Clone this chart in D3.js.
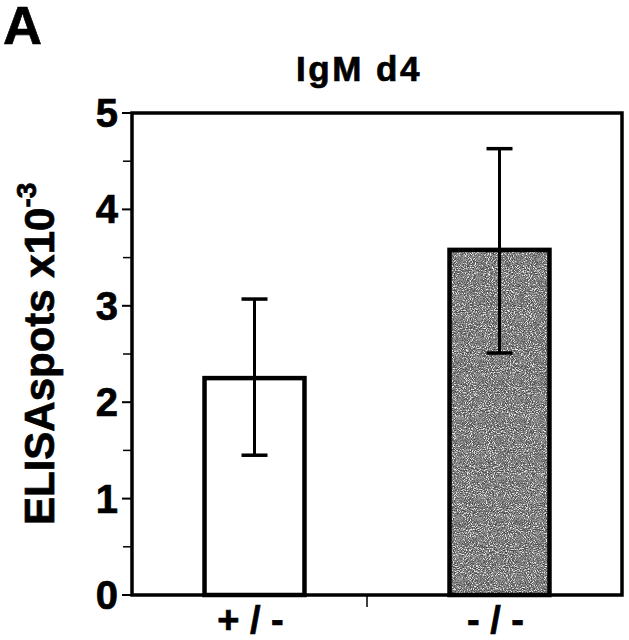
<!DOCTYPE html>
<html>
<head>
<meta charset="utf-8">
<script src="https://cdn.jsdelivr.net/npm/d3@7"></script>
<style>
  body { margin: 0; background: #fff; }
  text { font-family: "Liberation Sans", Arial, sans-serif; font-weight: bold; fill: #000; stroke: #000; stroke-width: 0.7; }
</style>
</head>
<body>
<div class="content"></div>
<script>
var groups = ["+ / -", "- / -"];
var means = [2.25, 3.58];
var lower = [1.45, 2.51];
var upper = [3.07, 4.63];
var fills = ["#ffffff", "grain"];
var majorTicks = [0, 1, 2, 3, 4, 5];
var minorTicks = [0.5, 1.5, 2.5, 3.5, 4.5];

var W = 629, H = 640;
var pLeft = 132, pRight = 622, pTop = 113, pBottom = 595;

var svg = d3.select(".content").append("svg").attr("width", W).attr("height", H);

// speckled gray fill for the knockout bar
var defs = svg.append("defs");
var f = defs.append("filter").attr("id", "grain")
  .attr("x", 0).attr("y", 0).attr("width", 1).attr("height", 1);
f.append("feTurbulence").attr("type", "fractalNoise").attr("baseFrequency", 0.95)
  .attr("numOctaves", 2).attr("seed", 7).attr("result", "n");
f.append("feColorMatrix").attr("in", "n").attr("type", "matrix")
  .attr("values", "1 0 0 0 0  1 0 0 0 0  1 0 0 0 0  0 0 0 0 1").attr("result", "g");
var ct = f.append("feComponentTransfer").attr("in", "g").attr("result", "t");
["feFuncR", "feFuncG", "feFuncB"].forEach(function(k) {
  ct.append(k).attr("type", "discrete").attr("tableValues", "0.05 0.05 0.08 0.15 0.3 0.7 0.95 1");
});
f.append("feComposite").attr("in", "t").attr("in2", "SourceGraphic").attr("operator", "in");

var x = d3.scaleBand().domain(groups).range([pLeft, pRight]).paddingInner(0.592).paddingOuter(0.296);
var y = d3.scaleLinear().domain([0, 5]).range([pBottom, pTop]);

// frame
svg.append("rect").attr("x", pLeft).attr("y", pTop)
  .attr("width", pRight - pLeft).attr("height", pBottom - pTop)
  .attr("fill", "none").attr("stroke", "#000").attr("stroke-width", 3.5);

// y axis ticks
svg.selectAll(".maj").data(majorTicks).enter().append("line")
  .attr("x1", pLeft - 10).attr("x2", pLeft).attr("y1", function(d){return y(d);}).attr("y2", function(d){return y(d);})
  .attr("stroke", "#000").attr("stroke-width", 2);
svg.selectAll(".min").data(minorTicks).enter().append("line")
  .attr("x1", pLeft - 9).attr("x2", pLeft).attr("y1", function(d){return y(d);}).attr("y2", function(d){return y(d);})
  .attr("stroke", "#000").attr("stroke-width", 1.5);
svg.selectAll(".tl").data(majorTicks).enter().append("text")
  .attr("x", 118).attr("y", function(d){return y(d) + 14;})
  .attr("text-anchor", "end").attr("font-size", 40).text(function(d){return d;});

// middle x tick
var mid = (x(groups[0]) + x.bandwidth() + x(groups[1])) / 2 - 10;
svg.append("line").attr("x1", mid).attr("x2", mid).attr("y1", pBottom).attr("y2", pBottom + 12)
  .attr("stroke", "#000").attr("stroke-width", 1.5);

// bars
groups.forEach(function(g, i) {
  var bx = x(g), bw = x.bandwidth();
  if (fills[i] === "grain") {
    svg.append("rect").attr("x", bx).attr("y", y(means[i])).attr("width", bw)
      .attr("height", y(0) - y(means[i])).attr("fill", "#777").attr("filter", "url(#grain)");
  } else {
    svg.append("rect").attr("x", bx).attr("y", y(means[i])).attr("width", bw)
      .attr("height", y(0) - y(means[i])).attr("fill", fills[i]);
  }
  svg.append("rect").attr("x", bx).attr("y", y(means[i])).attr("width", bw)
    .attr("height", y(0) - y(means[i])).attr("fill", "none")
    .attr("stroke", "#000").attr("stroke-width", 4.5);

  var cx = bx + bw / 2;
  svg.append("line").attr("x1", cx).attr("x2", cx).attr("y1", y(lower[i])).attr("y2", y(upper[i]))
    .attr("stroke", "#000").attr("stroke-width", 3);
  [lower[i], upper[i]].forEach(function(v) {
    svg.append("line").attr("x1", cx - 13).attr("x2", cx + 13).attr("y1", y(v)).attr("y2", y(v))
      .attr("stroke", "#000").attr("stroke-width", 3.5);
  });

  svg.append("text").attr("x", cx - 4).attr("y", 633).attr("text-anchor", "middle")
    .attr("font-size", 38).text(g);
});

// titles
svg.append("text").attr("x", 359).attr("y", 81).attr("text-anchor", "middle")
  .attr("font-size", 35).attr("letter-spacing", 2.5).text("IgM d4");
svg.append("text").attr("x", 3).attr("y", 44).attr("font-size", 54).text("A");

var yl = svg.append("text").attr("transform", "translate(54,525) rotate(-90)")
  .attr("font-size", 42);
yl.append("tspan").text("ELISAspots x10");
yl.append("tspan").attr("font-size", 28).attr("dy", -18).text("-3");
</script>
</body>
</html>
